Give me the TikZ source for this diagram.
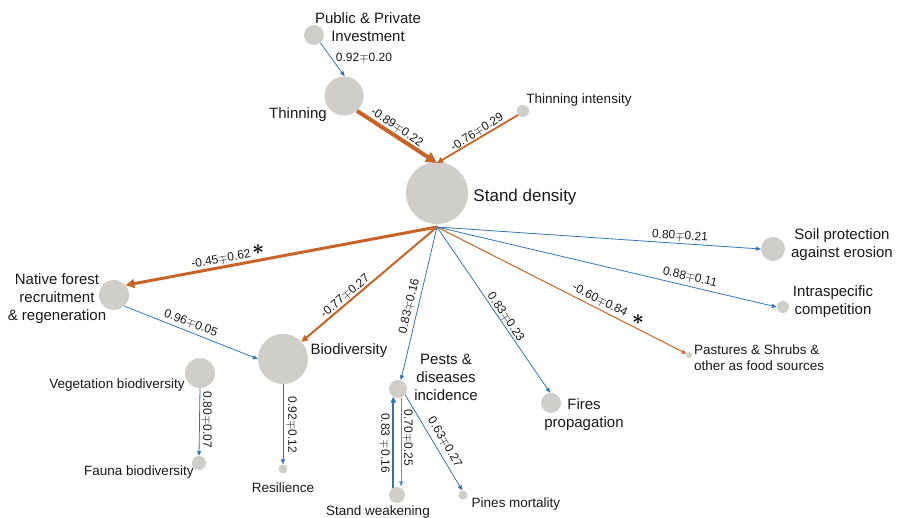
\documentclass[tikz,border=0pt]{standalone}
\usepackage{fontspec}
\setmainfont{Liberation Sans}
\usetikzlibrary{arrows.meta}
\definecolor{org}{RGB}{200,100,40}
\definecolor{blu}{RGB}{55,115,180}
\definecolor{lblu}{RGB}{95,145,200}
\definecolor{bub}{RGB}{208,206,202}
\definecolor{txt}{RGB}{25,25,25}
\begin{document}
\begin{tikzpicture}[x=1pt,y=-1pt,
  bubble/.style={circle,fill=bub,draw=none,inner sep=0pt,minimum size=#1},
  big/.style={font=\fontsize{15}{18}\selectfont,text=txt,align=center,inner sep=0pt},
  small/.style={font=\fontsize{13.5}{16}\selectfont,text=txt,inner sep=0pt},
  elab/.style={font=\fontsize{12}{14}\selectfont,text=txt,inner sep=0pt},
  posedge/.style={draw=blu,line width=0.8pt,-{Triangle[length=5pt,width=4pt]}},
  negedge/.style={draw=org,line width=#1,-{Triangle[length=2.2pt+2.2*#1,width=2pt+2.2*#1]}},
  star/.style={font=\fontsize{20}{20}\selectfont\boldmath,text=black,inner sep=0pt}
]
\useasboundingbox (0,0) rectangle (898,518);

% bubbles
\node[bubble=20pt] (ppi) at (314,35) {};
\node[bubble=39pt] (thin) at (344,96) {};
\node[bubble=12pt] (ti) at (523,111) {};
\node[bubble=62pt] (sd) at (437,193) {};
\node[bubble=30pt] (nat) at (114,295) {};
\node[bubble=50pt] (bio) at (283,359) {};
\node[bubble=30pt] (veg) at (200,373) {};
\node[bubble=14pt] (fau) at (199,463) {};
\node[bubble=9pt] (res) at (283,469) {};
\node[bubble=18pt] (pest) at (398,389) {};
\node[bubble=16pt] (sw) at (397,495) {};
\node[bubble=9pt] (pin) at (463,495) {};
\node[bubble=20pt] (fir) at (551,403) {};
\node[bubble=6pt] (pas) at (689,355) {};
\node[bubble=12pt] (int) at (783,307) {};
\node[bubble=24pt] (soil) at (773,249) {};
\coordinate (sdb) at (437,227);
\coordinate (sdt) at (437,163);

% labels
\node[big] (ppiL) at (368,27) {Public \& Private\\Investment};
\node[big] (thinL) at (298,115) {Thinning};
\node[small] (tiL) at (579,100) {Thinning intensity};
\node[big,font=\fontsize{17}{20}\selectfont] (sdL) at (525,197) {Stand density};
\node[big] (natL) at (57,299) {Native forest\\recruitment\\\& regeneration};
\node[big] (bioL) at (349,351) {Biodiversity};
\node[small] (vegL) at (117,385) {Vegetation biodiversity};
\node[small] (fauL) at (139,472) {Fauna biodiversity};
\node[small] (resL) at (283,488) {Resilience};
\node[big] (pestL) at (446,377) {Pests \&\\diseases\\incidence};
\node[small] (swL) at (378,512) {Stand weakening};
\node[small] (pinL) at (516,504) {Pines mortality};
\node[big] (firL) at (584,415) {Fires\\propagation};
\node[small,align=left,anchor=west] (pasL) at (694,358) {Pastures \& Shrubs \&\\other as food sources};
\node[big] (intL) at (833,302) {Intraspecific\\competition};
\node[big] (soilL) at (842,245) {Soil protection\\against erosion};

% edges
\draw[posedge] (ppi.-51) -- (thin.88);
\draw[negedge=4pt] (thin.-49) -- (sdt);
\draw[negedge=1.8pt] (ti.-141) -- (sdt);
\draw[negedge=3pt] (sdb) -- (nat.40);
\draw[negedge=2pt] (sdb) -- (bio.43);
\draw[posedge] (sdb) -- (pest.72);
\draw[posedge] (sdb) -- (fir.95);
\draw[negedge=1pt] (sdb) -- (pas.153);
\draw[posedge] (sdb) -- (int.west);
\draw[posedge] (sdb) -- (soil.west);
\draw[posedge] (nat.-47) -- (bio.west);
\draw[posedge] (bio.south) -- (res.north);
\draw[posedge] (veg.south) -- (fau.north);
\draw[posedge,line width=2.2pt,-{Triangle[length=6pt,width=5pt]}] (sw.117) -- (sw.117 |- pest.-125);
\draw[posedge,draw=lblu,shorten >=1pt] (pest.-70) -- (pest.-70 |- sw.68);
\draw[posedge] (pest.-39) -- (pin.100);

% edge labels
\node[elab] (l16) at (364,58) {0.92$\mp$0.20};
\node[elab,rotate=-33.9] (l1) at (397,127) {-0.89$\mp$0.22};
\node[elab,rotate=32.5] (l2) at (477,132) {-0.76$\mp$0.29};
\node[elab,rotate=10.2] (l3) at (221,259) {-0.45$\mp$0.62};
\node[elab,rotate=40.2] (l4) at (345,296) {-0.77$\mp$0.27};
\node[elab,rotate=76.5] (l5) at (409,306) {0.83$\mp$0.16};
\node[elab,rotate=-55.9] (l6) at (506,317) {0.83$\mp$0.23};
\node[elab,rotate=-26.9] (l7) at (600,300) {-0.60$\mp$0.84};
\node[elab,rotate=-13] (l8) at (690,277) {0.88$\mp$0.11};
\node[elab,rotate=-3.5] (l9) at (680,236) {0.80$\mp$0.21};
\node[elab,rotate=-20.8] (l10) at (191,323) {0.96$\mp$0.05};
\node[elab,rotate=-90] (l11) at (292,425) {0.92$\mp$0.12};
\node[elab,rotate=-90] (l12) at (207,420) {0.80$\mp$0.07};
\node[elab,rotate=-90] (l13) at (385,443) {0.83 $\mp$0.16};
\node[elab,rotate=-90] (l14) at (408,438) {0.70$\mp$0.25};
\node[elab,rotate=-59.5] (l15) at (445,442) {0.63$\mp$0.27};
\node[star] (s1) at (258,250) {$\ast$};
\node[star] (s2) at (638,320) {$\ast$};
\end{tikzpicture}
\end{document}
